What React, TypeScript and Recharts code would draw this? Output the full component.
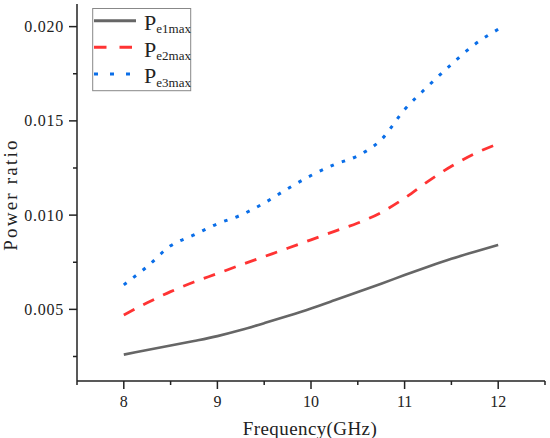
import React from 'react';
import { LineChart, Line, XAxis, YAxis, Legend } from 'recharts';

const freq = [8, 8.25, 8.5, 8.75, 9, 9.25, 9.5, 9.75, 10, 10.25, 10.5, 10.75, 11, 11.25, 11.5, 11.75, 12];
const pe1 = [0.0026, 0.00284, 0.00308, 0.00332, 0.00358, 0.0039, 0.00427, 0.00465, 0.00505, 0.00548, 0.00592, 0.00636, 0.00682, 0.00726, 0.00768, 0.00806, 0.00842];
const pe2 = [0.0047, 0.00535, 0.00594, 0.00645, 0.0069, 0.00736, 0.0078, 0.00824, 0.00869, 0.00914, 0.00958, 0.01014, 0.0109, 0.01179, 0.01259, 0.01326, 0.01379];
const pe3 = [0.0063, 0.00727, 0.00837, 0.00895, 0.00954, 0.01, 0.01064, 0.0114, 0.0121, 0.01268, 0.01315, 0.014, 0.0156, 0.01684, 0.018, 0.01906, 0.01986];

const xTicks = [7.5, 8, 8.5, 9, 9.5, 10, 10.5, 11, 11.5, 12, 12.5];
const yTicks = [0.0025, 0.005, 0.0075, 0.01, 0.0125, 0.015, 0.0175, 0.02];
const seriesNames = ['e1max', 'e2max', 'e3max'];

const data = freq.map((f, i) => ({ f, pe1: pe1[i], pe2: pe2[i], pe3: pe3[i] }));

const FONT = '"Liberation Serif", "Times New Roman", serif';
const AX = '#222';

const XTick = (props: any) => {
  const { x, y, payload } = props;
  const v = payload.value;
  const major = Math.abs(v - Math.round(v)) < 1e-9;
  return (
    <g>
      <line x1={x} x2={x} y1={y} y2={y + (major ? 8 : 4)} stroke={AX} strokeWidth={1.5} />
      {major && v >= 8 && v <= 12 && (
        <text x={x} y={y + 26} textAnchor="middle" fontFamily={FONT} fontSize={16} fill="#222">
          {v}
        </text>
      )}
    </g>
  );
};

const YTick = (props: any) => {
  const { x, y, payload } = props;
  const v = payload.value;
  const major = Math.abs(v * 200 - Math.round(v * 200)) < 1e-6;
  return (
    <g>
      <line x1={x - (major ? 8 : 4)} x2={x} y1={y} y2={y} stroke={AX} strokeWidth={1.5} />
      {major && (
        <text x={x - 13} y={y + 5.5} textAnchor="end" fontFamily={FONT} fontSize={16} fill="#222" letterSpacing={0.75}>
          {v.toFixed(3)}
        </text>
      )}
    </g>
  );
};

const XTitle = (props: any) => {
  const vb = props.viewBox;
  return (
    <text x={vb.x + vb.width / 2 - 1} y={vb.y + 54} textAnchor="middle" fontFamily={FONT} fontSize={19} fill="#222" letterSpacing={0.4}>
      Frequency(GHz)
    </text>
  );
};

const YTitle = (props: any) => {
  const vb = props.viewBox;
  const cx = vb.x + 17;
  const cy = vb.y + vb.height / 2 + 2;
  return (
    <text x={cx} y={cy} transform={`rotate(-90, ${cx}, ${cy})`} textAnchor="middle" fontFamily={FONT} fontSize={19} fill="#222" letterSpacing={2.2}>
      Power ratio
    </text>
  );
};

const LegendBox = () => {
  const rows = [
    { stroke: '#666666', dash: undefined as string | undefined, w: 3 },
    { stroke: '#ff3333', dash: '12.5 13', w: 3 },
    { stroke: '#0a6ee8', dash: '4 12', w: 3 },
  ];
  return (
    <svg width={100} height={84} style={{ display: 'block' }}>
      <rect x={0.7} y={0.5} width={98} height={82.2} fill="#fff" stroke="#888" strokeWidth={1} />
      {rows.map((r, i) => {
        const ly = 12.7 + i * 26.6;
        const by = 22 + i * 26.6;
        return (
          <g key={i}>
            <line x1={2} x2={44} y1={ly} y2={ly} stroke={r.stroke} strokeWidth={r.w} strokeDasharray={r.dash} />
            <text x={52} y={by} fontFamily={FONT} fontSize={22} fill="#222">
              P
              <tspan fontSize={13} dy={3.3}>{seriesNames[i]}</tspan>
            </text>
          </g>
        );
      })}
    </svg>
  );
};

export default function App() {
  return (
    <div style={{ position: 'absolute', left: 0, top: 0, width: 550, height: 438, background: '#fff' }}>
      <LineChart width={550} height={438} data={data} margin={{ top: 4, right: 5, left: 0, bottom: 0 }}>
        <XAxis
          dataKey="f"
          type="number"
          domain={[7.5, 12.5]}
          ticks={xTicks}
          interval={0}
          height={57}
          tickSize={0}
          tickMargin={0}
          tickLine={false}
          tick={<XTick />}
          axisLine={{ stroke: AX, strokeWidth: 1.5 }}
          allowDataOverflow
          label={(p: any) => <XTitle {...p} />}
        />
        <YAxis
          type="number"
          domain={[0.0012, 0.0212]}
          ticks={yTicks}
          interval={0}
          width={77}
          tickSize={0}
          tickMargin={0}
          tickLine={false}
          tick={<YTick />}
          axisLine={{ stroke: AX, strokeWidth: 1.5 }}
          allowDataOverflow
          label={(p: any) => <YTitle {...p} />}
        />
        <Legend
          layout="horizontal"
          verticalAlign="middle"
          align="center"
          wrapperStyle={{ position: 'absolute', left: 92, top: 8, width: 100, height: 84 }}
          content={() => <LegendBox />}
        />
        <Line type="monotone" dataKey="pe1" stroke="#666666" strokeWidth={2.6} dot={false} isAnimationActive={false} />
        <Line type="monotone" dataKey="pe2" stroke="#ff3333" strokeWidth={2.8} strokeDasharray="12 10" dot={false} isAnimationActive={false} />
        <Line type="monotone" dataKey="pe3" stroke="#0a6ee8" strokeWidth={3} strokeDasharray="3.5 8.5" dot={false} isAnimationActive={false} />
      </LineChart>
    </div>
  );
}
